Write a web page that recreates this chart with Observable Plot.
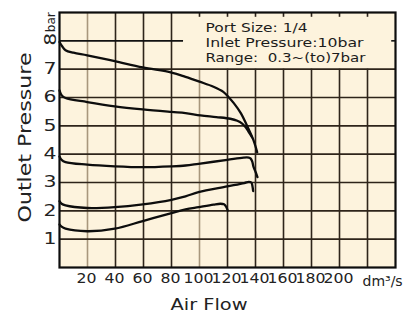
<!DOCTYPE html>
<html><head><meta charset="utf-8">
<script src="https://cdn.jsdelivr.net/npm/d3@7"></script>
<script src="https://cdn.jsdelivr.net/npm/@observablehq/plot@0.6"></script>
<style>body{margin:0;background:#fff}</style>
</head><body><div id="chart"></div>
<script>
// Air flow (dm³/s) vs outlet pressure (bar), one curve per set pressure
const set8X = [0, 2, 4.3, 10, 19.8, 39.5, 59.5, 80, 90, 100, 110, 117, 120.7, 124.5, 129.5, 134, 138.6, 141.2];
const set8Y = [7.96, 7.8, 7.67, 7.58, 7.49, 7.28, 7.06, 6.88, 6.73, 6.56, 6.38, 6.2, 6.02, 5.8, 5.45, 5.0, 4.49, 4.07];
const set6X = [0, 1.5, 4.3, 19.8, 39.5, 59.5, 80, 90, 100.7, 112, 122, 127, 130.5, 133, 135.2, 137.5];
const set6Y = [6.25, 6.08, 5.98, 5.84, 5.69, 5.58, 5.49, 5.45, 5.37, 5.31, 5.25, 5.18, 5.08, 4.95, 4.78, 4.6];
const set4X = [0, 1.5, 4.3, 19.8, 39.5, 59.5, 80, 90, 99.3, 119.8, 131.4, 135.2, 136.4, 137.6, 138.6, 140, 141.4];
const set4Y = [3.92, 3.8, 3.72, 3.63, 3.57, 3.54, 3.57, 3.6, 3.66, 3.8, 3.88, 3.88, 3.85, 3.75, 3.55, 3.38, 3.19];
const set2X = [0, 1.5, 4.3, 19.8, 39.5, 59.5, 80, 90, 99.3, 119.8, 132, 135.2, 137, 137.8, 138.3];
const set2Y = [2.34, 2.25, 2.19, 2.1, 2.13, 2.23, 2.39, 2.51, 2.66, 2.86, 2.98, 3.02, 3.0, 2.88, 2.7];
const set15X = [0, 1.5, 4.3, 19.8, 39.5, 59.5, 80, 90, 99.3, 110, 115, 117.5, 119, 120.2];
const set15Y = [1.52, 1.44, 1.37, 1.28, 1.37, 1.64, 1.92, 2.05, 2.13, 2.22, 2.25, 2.23, 2.15, 2.01];

const xTicks = [20, 40, 60, 80, 100, 120, 140, 160, 180, 200];
const xGrid = [20, 40, 60, 80, 100, 120, 140, 160, 180, 200, 220];
const yTicks = [1, 2, 3, 4, 5, 6, 7];
const yGrid = [1, 2, 3, 4, 5, 6, 7];
const topLabel = "8";
const topUnit = "bar";
const xUnit = "dm³/s";
const xTitle = "Air Flow";
const yTitle = "Outlet Pressure";
const legendLines = ["Port Size: 1/4", "Inlet Pressure:10bar", "Range:  0.3~(to)7bar"];

const toPts = (xs, ys) => xs.map((x, i) => ({x, y: ys[i]}));
const curves = [toPts(set8X, set8Y), toPts(set6X, set6Y), toPts(set4X, set4Y), toPts(set2X, set2Y), toPts(set15X, set15Y)];

const cream = "#fdf3dd";
const gridDark = "#2e241a";
const gridLight = "#a8977c";

const chart = Plot.plot({
  width: 405, height: 313,
  marginLeft: 59, marginRight: 10, marginTop: 12, marginBottom: 46,
  x: {domain: [0, 240], label: null},
  y: {domain: [0, 9], label: null},
  style: {background: "#fff", fontFamily: "DejaVu Sans", color: "#1c1c1c"},
  marks: [
    Plot.frame({fill: cream, stroke: null}),
    Plot.ruleX(xGrid, {y1: 0, y2: d => d < 90 ? 9 : 7, stroke: d => (d === 20 || d === 100) ? gridLight : gridDark, strokeWidth: 1.6}),
    Plot.ruleX(xGrid.filter(d => d >= 100), {y1: 9, y2: 8.83, stroke: gridDark, strokeWidth: 1.6}),
    Plot.ruleY(yGrid, {stroke: gridDark, strokeWidth: 1.6}),
    Plot.ruleY([8], {x1: 0, x2: 88.6, stroke: "#111", strokeWidth: 1.6}),
    Plot.ruleY([8], {x1: 237.3, x2: 240, stroke: "#111", strokeWidth: 1.6}),
    ...curves.map(c => Plot.line(c, {x: "x", y: "y", curve: "catmull-rom", stroke: "#0d0d0d", strokeWidth: 2.3})),
    Plot.frame({stroke: "#0d0d0d", strokeWidth: 2.2}),
    Plot.axisX(xTicks, {tickSize: 0, tickPadding: 6, fontSize: 14, dx: -1, label: null, fill: "#222"}),
    Plot.axisY(yTicks, {tickSize: 0, tickPadding: 3, fontSize: 15, label: null, fill: "#222"}),
    Plot.text([topLabel], {y: () => 8, frameAnchor: "left", text: d => d, rotate: -90, textAnchor: "start", dx: -9, dy: 5, fontSize: 16, fill: "#222", className: "lbl8"}),
    Plot.text([topUnit], {y: () => 8, frameAnchor: "left", text: d => d, rotate: -90, textAnchor: "start", dx: -8, dy: -8.6, fontSize: 12, fill: "#222", className: "lblbar"}),
    Plot.text([yTitle], {frameAnchor: "left", text: d => d, rotate: -90, textAnchor: "start", dx: -34, dy: 82.5, fontSize: 17, fill: "#222", className: "ytitle"}),
    Plot.text([xTitle], {frameAnchor: "bottom", text: d => d, dx: -18.5, dy: 42, fontSize: 16, fill: "#222", className: "xtitle"}),
    Plot.text([xUnit], {frameAnchor: "bottom-right", text: d => d, textAnchor: "start", dx: -33, dy: 18, fontSize: 14, fill: "#222", className: "xunit"}),
    ...legendLines.map((t, i) => Plot.text([t], {frameAnchor: "top-left", text: d => d, textAnchor: "start", lineAnchor: "top", dx: 146, dy: 11.3 + i * 15, fontSize: 12, fill: "#1c1c1c", className: "leg" + i}))
  ]
});

function stretch(sel, fn) {
  chart.querySelectorAll(sel).forEach(t => {
    const w = fn(t.textContent);
    if (w) { t.setAttribute("textLength", w); t.setAttribute("lengthAdjust", "spacingAndGlyphs"); }
  });
}
stretch('g[aria-label="x-axis tick label"] text', s => s.length * 10);
stretch('g[aria-label="y-axis tick label"] text', s => s.length * 13);
stretch('.lbl8 text', () => 13);
stretch('.lblbar text', () => 20);
stretch('.ytitle text', () => 170);
stretch('.xtitle text', () => 77);
stretch('.leg0 text', () => 102);
stretch('.leg1 text', () => 158);
stretch('.leg2 text', () => 160);

document.getElementById("chart").appendChild(chart);
</script>
</body></html>
